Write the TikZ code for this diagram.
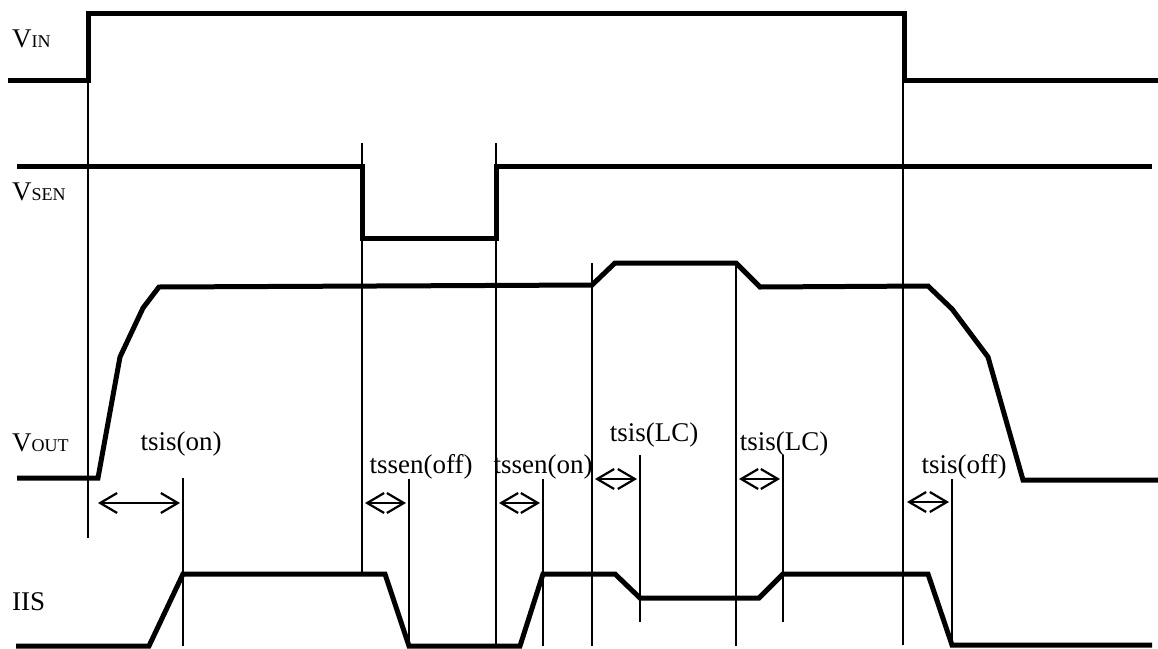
\documentclass[tikz,border=0pt]{standalone}
\usepackage{fontspec}
\setmainfont{Liberation Serif}
\usetikzlibrary{arrows.meta}
\tikzset{wave/.style={line width=5pt}, guide/.style={line width=1.6pt},
  gaparrow/.style={line width=2.2pt, {Straight Barb[length=17pt,width=20pt]}-{Straight Barb[length=17pt,width=20pt]}},
  signame/.style={anchor=base west, inner sep=0pt, font=\fontsize{27}{30}\selectfont},
  timelabel/.style={anchor=base, inner sep=0pt, font=\fontsize{27}{30}\selectfont}}
\newcommand{\subcaps}[1]{{\fontsize{18}{20}\selectfont #1}}

\begin{document}
\begin{tikzpicture}[x=1pt, y=-1pt]
      \useasboundingbox (0,0) rectangle (1158,648);
      % signal names
      \node [signame] (vin) at (12,47) {V\subcaps{IN}};
      \node [signame] (vsen) at (12,200) {V\subcaps{SEN}};
      \node [signame] (vout) at (12,451) {V\subcaps{OUT}};
      \node [signame] (iis) at (12,610) {IIS};
      % waveforms
      \draw [wave] (8,80) -- (88,80) -- (88,13) -- (904,13) -- (904,80) -- (1158,80);
      \draw [wave] (17,166) -- (362,166) -- (362,238) -- (496,238) -- (496,166) -- (1152,166);
      \draw [wave] (17,478) -- (98,478) -- (120,357) -- (143,308) -- (159,287) -- (592,285)
        -- (615,263) -- (736,263) -- (760,287) -- (928,286) -- (952,309) -- (988,357)
        -- (1023,480) -- (1158,480);
      \draw [wave] (16,646) -- (149,646) -- (183,574) -- (385,574) -- (409,646) -- (520,646)
        -- (543,574) -- (615,574) -- (640,598) -- (759,598) -- (783,574) -- (928,574)
        -- (952,645) -- (1152,645);
      % guide lines
      \draw [guide] (88,80) -- (88,538);
      \draw [guide] (362,143) -- (362,574);
      \draw [guide] (496,143) -- (496,646);
      \draw [guide] (592,263) -- (592,646);
      \draw [guide] (736,263) -- (736,646);
      \draw [guide] (903,80) -- (903,645);
      \draw [guide] (183,478) -- (183,646);
      \draw [guide] (409,479) -- (409,646);
      \draw [guide] (543,479) -- (543,646);
      \draw [guide] (640,455) -- (640,622);
      \draw [guide] (783,455) -- (783,622);
      \draw [guide] (952,479) -- (952,645);
      % delay arrows
      \coordinate (on a) at (98,503);   \coordinate (on b) at (180,503);
      \coordinate (soff a) at (365,503); \coordinate (soff b) at (406,503);
      \coordinate (son a) at (499,503);  \coordinate (son b) at (540,503);
      \coordinate (lc a) at (595,479);   \coordinate (lc b) at (637,479);
      \coordinate (lcc a) at (739,479);  \coordinate (lcc b) at (780,479);
      \coordinate (off a) at (907,502);  \coordinate (off b) at (949,502);
      \draw [gaparrow] (on a) -- (on b);
      \draw [gaparrow] (soff a) -- (soff b);
      \draw [gaparrow] (son a) -- (son b);
      \draw [gaparrow] (lc a) -- (lc b);
      \draw [gaparrow] (lcc a) -- (lcc b);
      \draw [gaparrow] (off a) -- (off b);
      % delay names
      \node [timelabel] (t on) at (181,450) {tsis(on)};
      \node [timelabel] (t soff) at (421,473) {tssen(off)};
      \node [timelabel] (t son) at (543,473) {tssen(on)};
      \node [timelabel] (t lc) at (654,441) {tsis(LC)};
      \node [timelabel] (t lcc) at (784,450) {tsis(LC)};
      \node [timelabel] (t off) at (964,473) {tsis(off)};
    \end{tikzpicture}
\end{document}
